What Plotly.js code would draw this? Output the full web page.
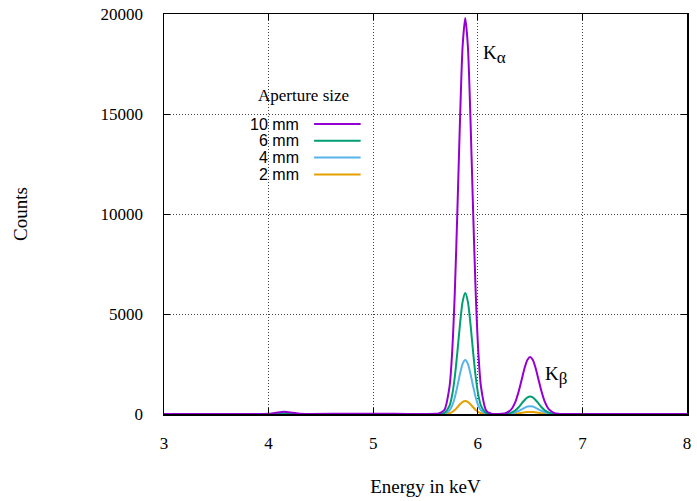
<!DOCTYPE html>
<html>
<head>
<meta charset="utf-8">
<script src="https://cdn.plot.ly/plotly-3.0.1.min.js"></script>
<style>html,body{margin:0;padding:0;background:#fff}#chart{width:697px;height:501px}</style>
</head>
<body>
<div id="chart"></div>
<script>
// Energy grid (keV)
var energy = [3.0, 3.5, 3.9, 4.0, 4.07, 4.15, 4.23, 4.3, 4.4, 4.8, 5.2, 5.5, 5.6, 5.63, 5.68, 5.73, 5.755, 5.78, 5.805, 5.83, 5.855, 5.88, 5.905, 5.93, 5.955, 5.98, 6.005, 6.03, 6.08, 6.13, 6.2, 6.26, 6.32, 6.36, 6.39, 6.42, 6.45, 6.475, 6.5, 6.525, 6.55, 6.58, 6.61, 6.64, 6.68, 6.74, 6.8, 7.0, 7.5, 8.0];

var counts10 = [0, 0, 2, 10, 60, 110, 60, 15, 5, 10, 8, 3, 8, 30, 200, 1380, 3110, 6060, 10180, 14730, 18400, 19800, 18400, 14730, 10180, 6060, 3110, 1380, 175, 12, 0, 31, 228, 616, 1109, 1730, 2346, 2713, 2850, 2713, 2346, 1730, 1109, 616, 228, 31, 2, 0, 0, 0];
var counts6 = [0, 0, 1, 3, 18, 35, 18, 5, 2, 3, 2, 1, 3, 9, 60, 420, 950, 1850, 3110, 4500, 5620, 6050, 5620, 4500, 3110, 1850, 950, 420, 55, 4, 0, 9, 70, 188, 338, 528, 716, 828, 870, 828, 716, 528, 338, 188, 70, 9, 1, 0, 0, 0];
var counts4 = [0, 0, 0, 1, 8, 15, 8, 2, 1, 1, 1, 0, 1, 4, 27, 190, 425, 830, 1390, 2010, 2510, 2700, 2510, 2010, 1390, 830, 425, 190, 25, 2, 0, 4, 31, 84, 152, 237, 321, 372, 390, 372, 321, 237, 152, 84, 31, 4, 0, 0, 0, 0];
var counts2 = [0, 0, 0, 0, 2, 4, 2, 0, 0, 0, 0, 0, 0, 1, 7, 45, 100, 200, 335, 485, 605, 650, 605, 485, 335, 200, 100, 45, 6, 1, 0, 1, 8, 22, 39, 61, 82, 95, 100, 95, 82, 61, 39, 22, 8, 1, 0, 0, 0, 0];

var seriesNames = ["10 mm", "6 mm", "4 mm", "2 mm"];
var seriesData = [counts10, counts6, counts4, counts2];
var seriesColors = ["#9400d3", "#009e73", "#56b4e9", "#e69f00"];
var legendTitle = "Aperture size";
var xTicks = [3, 4, 5, 6, 7, 8];
var yTicks = [0, 5000, 10000, 15000, 20000];
var peakLabels = ["K<sub><span style='font-size:17px'>α</span></sub>", "K<sub><span style='font-size:17px'>β</span></sub>"];
var peakLabelPos = [[6.03, 18000], [6.62, 1950]];

var traces = [];
for (var i = seriesData.length - 1; i >= 0; i--) {
  traces.push({
    x: energy, y: seriesData[i], name: seriesNames[i], type: 'scatter', mode: 'lines',
    line: {color: seriesColors[i], width: 2, shape: 'spline', smoothing: 0.7},
    showlegend: false, cliponaxis: true
  });
}

var serif = "'Liberation Serif', 'DejaVu Serif', serif";
var sans = "'Liberation Sans', Arial, sans-serif";

var annotations = [];
var shapes = [];
// legend title
annotations.push({xref: 'paper', yref: 'paper', x: 0.266, y: 0.797, xanchor: 'center', yanchor: 'middle',
  text: legendTitle, showarrow: false, font: {family: serif, size: 17, color: '#000'}});
var rowY = [0.725, 0.683, 0.641, 0.599];
for (var k = 0; k < seriesNames.length; k++) {
  annotations.push({xref: 'paper', yref: 'paper', x: 0.262, y: rowY[k], xanchor: 'right', yanchor: 'middle',
    text: seriesNames[k], showarrow: false, font: {family: sans, size: 16, color: '#000'}});
  shapes.push({type: 'line', xref: 'paper', yref: 'paper', x0: 0.287, x1: 0.376, y0: rowY[k], y1: rowY[k],
    line: {color: seriesColors[k], width: 2}});
}
for (var p = 0; p < peakLabels.length; p++) {
  annotations.push({x: peakLabelPos[p][0], y: peakLabelPos[p][1], xanchor: 'left', yanchor: 'middle',
    text: peakLabels[p], showarrow: false, font: {family: serif, size: 19, color: '#000'}});
}

var layout = {
  width: 697, height: 501,
  margin: {l: 164, r: 10, t: 14, b: 87},
  paper_bgcolor: '#fff', plot_bgcolor: '#fff',
  showlegend: false,
  xaxis: {
    range: [3, 8], tickvals: xTicks, ticktext: xTicks.map(String),
    ticks: 'inside', ticklen: 6, tickcolor: '#000', mirror: 'ticks',
    showline: true, linecolor: '#000', linewidth: 1.5,
    showgrid: true, gridcolor: '#444', griddash: '1px,2px', gridwidth: 1,
    zeroline: false, ticklabelstandoff: 13,
    tickfont: {family: serif, size: 17, color: '#000'},
    title: {text: 'Energy in keV', font: {family: serif, size: 19, color: '#000'}, standoff: 28}
  },
  yaxis: {
    range: [0, 20000], tickvals: yTicks, ticktext: yTicks.map(String),
    ticks: 'inside', ticklen: 6, tickcolor: '#000', mirror: 'ticks',
    showline: true, linecolor: '#000', linewidth: 1.5,
    showgrid: true, gridcolor: '#444', griddash: '1px,2px', gridwidth: 1,
    zeroline: false, ticklabelstandoff: 16,
    tickfont: {family: serif, size: 17, color: '#000'},
    title: {text: 'Counts', font: {family: serif, size: 19, color: '#000'}, standoff: 68}
  },
  annotations: annotations,
  shapes: shapes
};

Plotly.newPlot('chart', traces, layout, {staticPlot: true, displayModeBar: false});
</script>
</body>
</html>
